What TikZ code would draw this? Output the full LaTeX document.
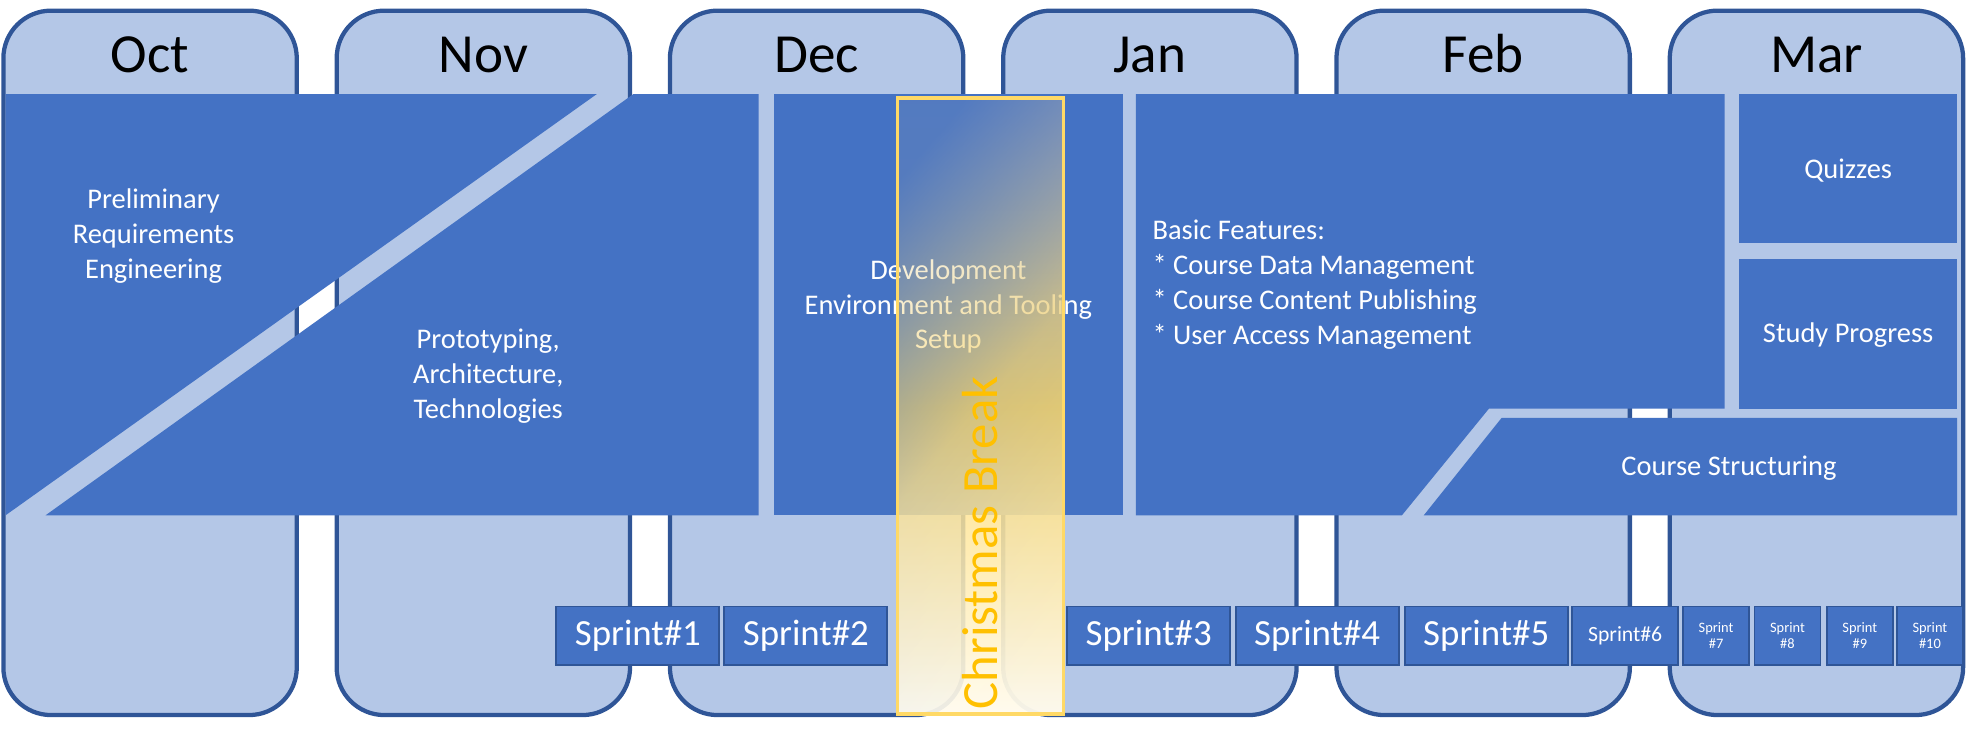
\documentclass[tikz,border=0pt]{standalone}
\usepackage{fontspec}
\setmainfont{Carlito}
\usetikzlibrary{fadings}
\definecolor{monthfill}{HTML}{B4C7E7}
\definecolor{monthline}{HTML}{2F5597}
\definecolor{blockblue}{HTML}{4472C4}
\definecolor{xmasline}{HTML}{FFD966}
\definecolor{xmastext}{HTML}{FFC000}
\definecolor{xmastop}{HTML}{C4BCAA}
\definecolor{xmasmid}{HTML}{FFD966}
\definecolor{xmasbot}{HTML}{FFFBEE}
\tikzfading[name=xmasfade, top color=transparent!88, bottom color=transparent!5, middle color=transparent!22]
\begin{document}
\begin{tikzpicture}[x=1pt,y=-1pt,
  monthbox/.style={fill=monthfill, draw=monthline, line width=3.4pt, rounded corners=38pt},
  monthlabel/.style={font=\fontsize{44}{52}\selectfont, text=black, anchor=base, inner sep=0pt},
  block/.style={fill=blockblue},
  blocktext/.style={font=\fontsize{22.7}{27.8}\selectfont, text=white, align=center, inner sep=0pt},
  sprintbox/.style={fill=blockblue, draw=monthline, line width=1.5pt, text=white, inner sep=0pt, minimum height=46.5pt, align=center},
  bigsprint/.style={sprintbox, minimum width=130pt, font=\fontsize{29.4}{34}\selectfont},
  midsprint/.style={sprintbox, minimum width=84.8pt, font=\fontsize{17.3}{20}\selectfont},
  smallsprint/.style={sprintbox, minimum width=52.6pt, font=\fontsize{11.5}{13.1}\selectfont}]
\useasboundingbox (0,0) rectangle (1568,588.6);
% month columns
\foreach \i/\m in {0/Oct,1/Nov,2/Dec,3/Jan,4/Feb,5/Mar}{
  \path[monthbox] ({2.7+265.8*\i},8.5) rectangle ({236.7+265.8*\i},570.3);
  \node[monthlabel] (lbl\m) at ({119.7+265.8*\i},58.2) {\m};
}
% work blocks
\fill[block] (4.4,75) -- (476,75) -- (4.4,411) -- cycle;
\fill[block] (505.2,75) -- (605,75) -- (605,411) -- (36.3,411) -- cycle;
\fill[block] (617.4,75) rectangle (895.6,411);
\fill[block] (906,75) -- (1375.5,75) -- (1375.5,325.8) -- (1187.6,325.8) -- (1118.1,411) -- (906,411) -- cycle;
\fill[block] (1197.6,333.3) -- (1560.8,333.3) -- (1560.8,411) -- (1135.5,411) -- cycle;
\fill[block] (1387.3,75) rectangle (1560.8,194);
\fill[block] (1387.3,206.5) rectangle (1560.8,325.8);
% block texts
\node[blocktext] (prelim) at (122.5,188.4) {Preliminary\\Requirements\\Engineering};
\node[blocktext] (proto) at (389.4,300) {Prototyping,\\Architecture,\\Technologies};
\node[blocktext] (dev) at (756.4,244.4) {Development\\Environment and Tooling\\Setup};
\node[blocktext, align=left, anchor=west] (basic) at (919,227) {Basic Features:\\* Course Data Management\\* Course Content Publishing\\* User Access Management};
\node[blocktext] (quiz) at (1474,135.9) {Quizzes};
\node[blocktext] (study) at (1474,267.3) {Study Progress};
\node[blocktext] (course) at (1379,373.5) {Course Structuring};
% sprints
\node[bigsprint] (s1) at (508.75,507) {Sprint\#1};
\node[bigsprint] (s2) at (642.75,507) {Sprint\#2};
\node[bigsprint] (s3) at (916.15,507) {Sprint\#3};
\node[bigsprint] (s4) at (1050.5,507) {Sprint\#4};
\node[bigsprint] (s5) at (1185.35,507) {Sprint\#5};
\node[midsprint] (s6) at (1296.15,507) {Sprint\#6};
\node[smallsprint] (s7) at (1368.65,507) {Sprint\\\#7};
\node[smallsprint] (s8) at (1425.6,507) {Sprint\\\#8};
\node[smallsprint] (s9) at (1483.3,507) {Sprint\\\#9};
\node[smallsprint] (s10) at (1539.2,507) {Sprint\\\#10};
% Christmas break overlay
\shade[path fading=xmasfade, fading angle=18, shading angle=18, top color=xmastop, bottom color=xmasbot, middle color=xmasmid] (715.6,78.2) rectangle (848,569.4);
\draw[xmasline, line width=2.5pt] (715.6,78.2) rectangle (848,569.4);
\node[rotate=90, font=\fontsize{40.5}{48}\selectfont, text=xmastext, inner sep=0pt] (xmas) at (781.5,433) {Christmas Break};
\end{tikzpicture}
\end{document}
